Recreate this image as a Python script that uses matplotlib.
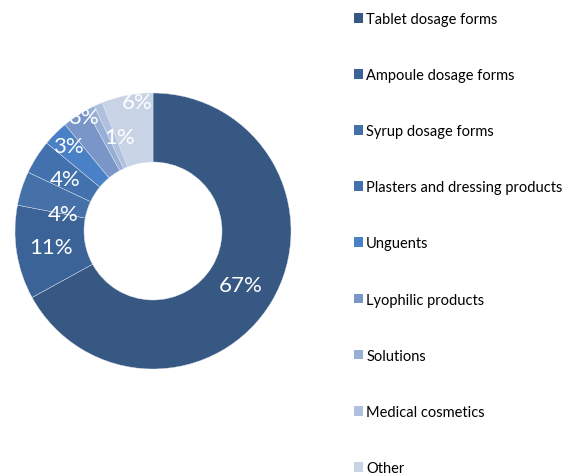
import matplotlib.pyplot as plt
from matplotlib.patches import Patch
import numpy as np

plt.rcParams['font.family'] = ['Lato', 'DejaVu Sans']

# product groups and their shares (%)
categories = ["Tablet dosage forms", "Ampoule dosage forms", "Syrup dosage forms",
              "Plasters and dressing products", "Unguents", "Lyophilic products",
              "Solutions", "Medical cosmetics", "Other"]
shares = [67, 11, 4, 4, 3, 3, 1, 1, 6]
pct_labels = ["67%", "11%", "4%", "4%", "3%", "3%", "", "1%", "6%"]
colors = ["#365883", "#3c6397", "#4570a8", "#4271ad", "#4a80c6",
          "#7a96c8", "#98afd5", "#b0c1df", "#c9d3e6"]

# label placement tweaks (radius as fraction, angle shift in degrees)
lab_r = [0.75, 0.75, 0.66, 0.74, 0.87, 0.97, 0.75, 0.72, 0.94]
lab_shift = [-1, 0, 7, 2, 0, -3, 0, -4, -4]

fig = plt.figure(figsize=(5.64, 4.77), dpi=100)
ax = fig.add_axes([15 / 564, 107 / 477, 276 / 564, 276 / 477])

wedges, _ = ax.pie(shares, colors=colors, startangle=90, counterclock=False,
                   radius=1, wedgeprops=dict(width=0.5, edgecolor="#dfe6f0", linewidth=0.3))
ax.set_xlim(-1, 1)
ax.set_ylim(-1, 1)
ax.set_aspect("equal")
ax.axis("off")

for w, txt, r, s in zip(wedges, pct_labels, lab_r, lab_shift):
    ang = np.deg2rad((w.theta1 + w.theta2) / 2 + s)
    ax.text(r * np.cos(ang), r * np.sin(ang), txt, color="white", fontsize=16,
            ha="center", va="center")

handles = [Patch(facecolor=c, edgecolor="none") for c in colors]
fig.legend(handles, categories, loc="upper left", bbox_to_anchor=(348 / 564, 1 - 7 / 477),
           frameon=False, fontsize=10.5, handlelength=0.65, handleheight=0.65,
           handletextpad=0.2, labelspacing=2.89, borderaxespad=0)

plt.savefig("out.png", dpi=100)
